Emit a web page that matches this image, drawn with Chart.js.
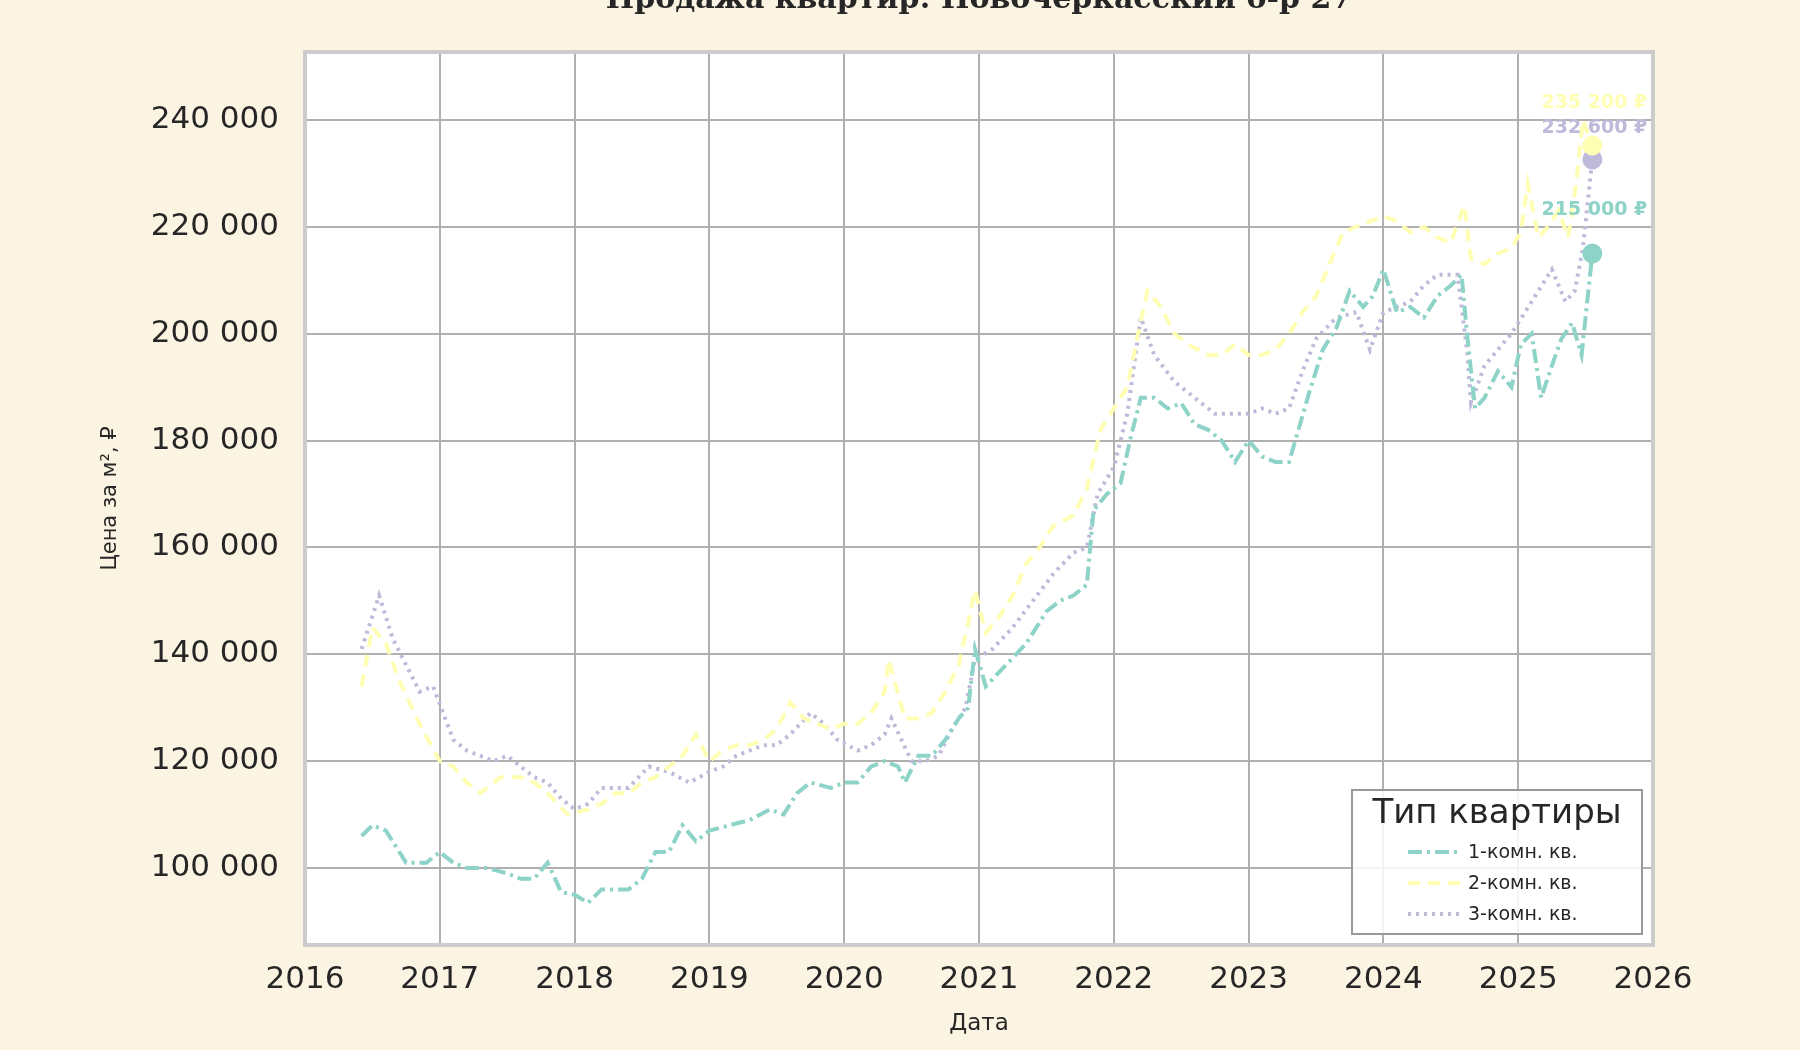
<!DOCTYPE html>
<html lang="ru">
<head>
<meta charset="UTF-8">
<title>Продажа квартир</title>
<script src="https://cdn.jsdelivr.net/npm/chart.js"></script>
<style>
  body { margin: 0; background: #fbf4e2; }
  #wrap { width: 1800px; height: 1050px; }
</style>
</head>
<body>
<div id="wrap"><canvas id="c" width="1800" height="1050"></canvas></div>
<script>
// данные (год в десятичном виде, цена в тыс. ₽)
const years1 = [2016.42,2016.5,2016.6,2016.75,2016.9,2017.0,2017.1,2017.2,2017.35,2017.5,2017.6,2017.7,2017.8,2017.9,2018.0,2018.1,2018.2,2018.3,2018.4,2018.5,2018.6,2018.7,2018.8,2018.9,2019.0,2019.15,2019.3,2019.45,2019.55,2019.65,2019.75,2019.9,2020.0,2020.1,2020.2,2020.3,2020.4,2020.45,2020.55,2020.65,2020.75,2020.85,2020.92,2020.97,2021.05,2021.2,2021.35,2021.5,2021.6,2021.7,2021.8,2021.85,2021.95,2022.05,2022.12,2022.2,2022.3,2022.4,2022.5,2022.6,2022.7,2022.8,2022.9,2023.0,2023.1,2023.2,2023.3,2023.37,2023.45,2023.55,2023.65,2023.75,2023.85,2023.92,2024.0,2024.1,2024.2,2024.3,2024.4,2024.5,2024.58,2024.62,2024.68,2024.75,2024.85,2024.95,2025.02,2025.1,2025.17,2025.25,2025.32,2025.4,2025.47,2025.55];
const room1 = [106,108,107,101,101,103,101,100,100,99,98,98,101,95.5,95,93.5,96,96,96,98,103,103,108,105,107,108,109,111,110,114,116,115,116,116,119,120,119,116,121,121,124,128,130,141,134,138,142,148,150,151,153,167,170,172,180,188,188,186,187,183,182,180,176,180,177,176,176,182,189,197,201,208,205,207,212,204,205,203,207,209,211,200,186,188,193,190,198,200,188,194,199,202,196,215];
const years2 = [2016.42,2016.5,2016.6,2016.7,2016.85,2017.0,2017.1,2017.2,2017.3,2017.45,2017.6,2017.7,2017.8,2017.95,2018.1,2018.2,2018.3,2018.4,2018.5,2018.6,2018.7,2018.8,2018.9,2019.0,2019.1,2019.2,2019.3,2019.4,2019.5,2019.6,2019.7,2019.8,2019.9,2020.0,2020.1,2020.2,2020.3,2020.33,2020.45,2020.55,2020.65,2020.75,2020.85,2020.92,2020.97,2021.05,2021.15,2021.25,2021.35,2021.45,2021.55,2021.7,2021.8,2021.9,2022.0,2022.1,2022.18,2022.25,2022.35,2022.45,2022.55,2022.7,2022.8,2022.9,2023.0,2023.1,2023.2,2023.3,2023.4,2023.5,2023.6,2023.7,2023.8,2023.9,2024.0,2024.1,2024.2,2024.3,2024.4,2024.5,2024.6,2024.65,2024.75,2024.85,2024.95,2025.02,2025.07,2025.15,2025.22,2025.3,2025.37,2025.43,2025.48,2025.55];
const room2 = [134,145,142,135,127,120,119,116,114,117,117,116,114,110,111,112,114,114,116,117,119,121,125,120,122,123,123,124,126,131,128,127,126,127,127,129,133,139,128,128,129,133,138,146,152,144,147,151,157,160,164,166,171,182,186,190,200,208,205,200,198,196,196,198,196,196,197,200,204,207,213,219,220,221,222,221,219,220,218,217,224,214,213,215,216,219,228,218,220,223,218,228,240,235.2];
const years3 = [2016.42,2016.55,2016.65,2016.75,2016.85,2016.95,2017.1,2017.2,2017.3,2017.4,2017.5,2017.6,2017.7,2017.8,2017.9,2018.0,2018.1,2018.2,2018.3,2018.4,2018.55,2018.7,2018.85,2019.0,2019.1,2019.2,2019.3,2019.4,2019.5,2019.6,2019.75,2019.85,2019.95,2020.1,2020.2,2020.3,2020.35,2020.5,2020.6,2020.7,2020.8,2020.9,2020.97,2021.1,2021.25,2021.4,2021.55,2021.7,2021.8,2021.88,2022.0,2022.1,2022.2,2022.3,2022.45,2022.6,2022.75,2022.9,2023.0,2023.1,2023.2,2023.3,2023.4,2023.5,2023.65,2023.8,2023.9,2024.0,2024.1,2024.2,2024.3,2024.4,2024.55,2024.62,2024.65,2024.75,2024.85,2024.95,2025.05,2025.15,2025.25,2025.35,2025.42,2025.48,2025.55];
const room3 = [141,151,143,138,133,134,124,122,121,120,121,119,117,116,113,111,112,115,115,115,119,118,116,118,119,121,122,123,123,125,129,127,124,122,123,125,128,120,120,121,126,130,139,141,145,150,155,159,160,170,175,185,203,196,191,188,185,185,185,186,185,186,193,199,203,204,197,204,205,206,209,211,211,197,187,194,197,200,204,208,212,206,208,216,232.6];
const seriesNames = ['1-комн. кв.', '2-комн. кв.', '3-комн. кв.'];
const seriesColors = ['#8dd3c7', '#ffffb3', '#bebada'];
const seriesDash = [[14, 5, 3, 5], [12, 8], [3, 5]];
const yTicks = [100000,120000,140000,160000,180000,200000,220000,240000];

const toPts = (xs, ys) => xs.map((x, i) => ({ x: x, y: ys[i] * 1000 }));
const allPts = [toPts(years1, room1), toPts(years2, room2), toPts(years3, room3)];
const fmt = v => Math.round(v).toString().replace(/\B(?=(\d{3})+(?!\d))/g, ' ');

const datasets = allPts.map((pts, i) => ({
  label: seriesNames[i],
  data: pts,
  borderColor: seriesColors[i],
  backgroundColor: seriesColors[i],
  borderWidth: 4,
  borderDash: seriesDash[i],
  pointRadius: pts.map((p, j) => j === pts.length - 1 ? 10 : 0),
  pointBorderWidth: 0,
  tension: 0
}));

const decor = {
  id: 'decor',
  beforeDraw(chart) {
    const { ctx, chartArea: a } = chart;
    ctx.save();
    ctx.fillStyle = '#fbf4e2';
    ctx.fillRect(0, 0, chart.width, chart.height);
    ctx.fillStyle = '#ffffff';
    ctx.fillRect(a.left, a.top, a.right - a.left, a.bottom - a.top);
    ctx.font = 'bold 30px "DejaVu Serif"';
    ctx.fillStyle = '#262626';
    ctx.textAlign = 'center';
    ctx.textBaseline = 'alphabetic';
    ctx.fillText('Продажа квартир: Новочеркасский б-р 27', (a.left + a.right) / 2, 8);
    ctx.restore();
  },
  afterDraw(chart) {
    const { ctx, chartArea: a, scales } = chart;
    ctx.save();
    ctx.strokeStyle = '#cccccc';
    ctx.lineWidth = 4;
    ctx.strokeRect(a.left, a.top, a.right - a.left, a.bottom - a.top);
    // подписи последних значений
    ctx.font = 'bold 19px "DejaVu Sans"';
    ctx.textAlign = 'center';
    const offs = [-38, -38, -26];
    allPts.forEach((pts, i) => {
      const p = pts[pts.length - 1];
      ctx.fillStyle = seriesColors[i];
      ctx.fillText(fmt(p.y) + ' ₽', scales.x.getPixelForValue(p.x) + 2, scales.y.getPixelForValue(p.y) + offs[i]);
    });
    // легенда
    const lx = 1352, ly = 790, lw = 290, lh = 144;
    ctx.fillStyle = 'rgba(255,255,255,0.85)';
    ctx.fillRect(lx, ly, lw, lh);
    ctx.strokeStyle = '#999999';
    ctx.lineWidth = 2;
    ctx.strokeRect(lx, ly, lw, lh);
    ctx.fillStyle = '#262626';
    ctx.font = '34px "DejaVu Sans"';
    ctx.textAlign = 'center';
    ctx.textBaseline = 'middle';
    ctx.fillText('Тип квартиры', lx + lw / 2, ly + 24);
    ctx.font = '19px "DejaVu Sans"';
    ctx.textAlign = 'left';
    seriesNames.forEach((n, i) => {
      const yy = ly + 62 + i * 31;
      ctx.strokeStyle = seriesColors[i];
      ctx.lineWidth = 4;
      ctx.setLineDash(seriesDash[i]);
      ctx.beginPath();
      ctx.moveTo(lx + 56, yy);
      ctx.lineTo(lx + 110, yy);
      ctx.stroke();
      ctx.setLineDash([]);
      ctx.fillStyle = '#262626';
      ctx.fillText(n, lx + 116, yy + 1);
    });
    ctx.restore();
  }
};

new Chart(document.getElementById('c'), {
  type: 'line',
  data: { datasets: datasets },
  options: {
    responsive: false,
    animation: false,
    layout: { padding: { top: 52, right: 147, left: 98, bottom: 0 } },
    plugins: { legend: { display: false }, tooltip: { enabled: false } },
    scales: {
      x: {
        type: 'linear', min: 2016, max: 2026,
        afterFit: s => { s.height = 105; },
        ticks: { stepSize: 1, color: '#262626', font: { size: 31, family: 'DejaVu Sans' }, padding: 16, callback: v => String(v) },
        grid: { color: '#b0b0b0', lineWidth: 2, drawTicks: false },
        border: { display: false },
        title: { display: true, text: 'Дата', color: '#262626', font: { size: 23, family: 'DejaVu Sans' }, padding: { top: 0, bottom: 12 } }
      },
      y: {
        min: 85600, max: 252700,
        afterFit: s => { s.width = 207; },
        afterBuildTicks: s => { s.ticks = yTicks.map(v => ({ value: v })); },
        ticks: { color: '#262626', font: { size: 31, family: 'DejaVu Sans' }, padding: 26, callback: v => fmt(v) },
        grid: { color: '#b0b0b0', lineWidth: 2, drawTicks: false },
        border: { display: false },
        title: { display: true, text: 'Цена за м², ₽', color: '#262626', font: { size: 21, family: 'DejaVu Sans' }, padding: 0 }
      }
    }
  },
  plugins: [decor]
});
</script>
</body>
</html>
